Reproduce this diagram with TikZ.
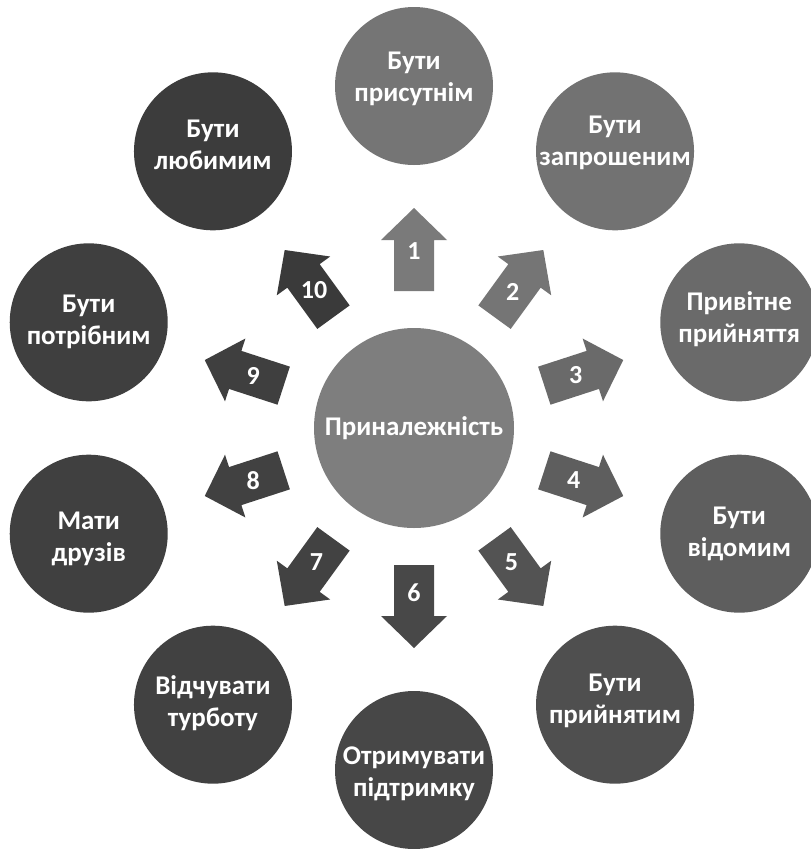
\documentclass[tikz,border=0pt]{standalone}
\usepackage{fontspec}
\setmainfont{Carlito}
\usetikzlibrary{calc}
\begin{document}
\begin{tikzpicture}[x=1pt,y=1pt,
  bubble/.style={circle, minimum size=158pt, inner sep=0pt, text=white, align=center,
    font=\fontsize{27}{32}\selectfont\bfseries},
  hub/.style={circle, minimum size=200pt, inner sep=0pt, text=white, align=center,
    font=\fontsize{27}{33}\selectfont\bfseries},
  numlabel/.style={text=white, inner sep=0pt, font=\fontsize{26}{28}\selectfont\bfseries}]
\definecolor{hubc}{HTML}{7E7E7E}
\definecolor{c1}{HTML}{757575}
\definecolor{c2}{HTML}{727272}
\definecolor{c3}{HTML}{6A6A6A}
\definecolor{c4}{HTML}{5E5E5E}
\definecolor{c5}{HTML}{4F4F4F}
\definecolor{c6}{HTML}{474747}
\definecolor{c7}{HTML}{414141}
\definecolor{c8}{HTML}{404040}
\definecolor{c9}{HTML}{3F3F3F}
\definecolor{c10}{HTML}{3C3C3C}
\definecolor{a1}{HTML}{7A7A7A}
\definecolor{a2}{HTML}{757575}
\definecolor{a3}{HTML}{6A6A6A}
\definecolor{a4}{HTML}{5E5E5E}
\definecolor{a5}{HTML}{535353}
\definecolor{a6}{HTML}{484848}
\definecolor{a7}{HTML}{424242}
\definecolor{a8}{HTML}{414141}
\definecolor{a9}{HTML}{3F3F3F}
\definecolor{a10}{HTML}{3A3A3A}
\useasboundingbox (0,0) rectangle (811,-849);
\fill[white] (0,0) rectangle (811,-849);
\coordinate (C) at (414,-428);
\node[hub, fill=hubc] (hub) at (C) {Приналежність};
% outer circles
\node[bubble, fill=c1]  (b1)  at ($(C)+(90:342)$)   {};
\node[bubble, fill=c2]  (b2)  at ($(C)+(54:342)$)   {};
\node[bubble, fill=c3]  (b3)  at ($(C)+(18:342)$)   {};
\node[bubble, fill=c4]  (b4)  at ($(C)+(-18:342)$)  {};
\node[bubble, fill=c5]  (b5)  at ($(C)+(-54:342)$)  {};
\node[bubble, fill=c6]  (b6)  at ($(C)+(-90:342)$)  {};
\node[bubble, fill=c7]  (b7)  at ($(C)+(-126:342)$) {};
\node[bubble, fill=c8]  (b8)  at ($(C)+(-162:342)$) {};
\node[bubble, fill=c9]  (b9)  at ($(C)+(162:342)$)  {};
\node[bubble, fill=c10] (b10) at ($(C)+(126:342)$)  {};
% circle texts
\node[bubble] (t1)  at ($(b1.center)+(0,7)$)   {Бути\\присутнім};
\node[bubble] (t2)  at ($(b2.center)+(0,8)$)   {Бути\\запрошеним};
\node[bubble] (t3)  at ($(b3.center)+(0,3)$)   {Привітне\\прийняття};
\node[bubble] (t4)  at (b4.center)             {Бути\\відомим};
\node[bubble] (t5)  at ($(b5.center)+(0,4)$)   {Бути\\прийнятим};
\node[bubble] (t6)  at ($(b6.center)+(0,-4)$)  {Отримувати\\підтримку};
\node[bubble] (t7)  at ($(b7.center)+(0,2)$)   {Відчувати\\турботу};
\node[bubble] (t8)  at ($(b8.center)+(0,-5)$)  {Мати\\друзів};
\node[bubble] (t9)  at (b9.center)             {Бути\\потрібним};
\node[bubble] (t10) at ($(b10.center)+(0,6)$)  {Бути\\любимим};
% arrows
\foreach \k/\col in {1/a1,2/a2,3/a3,4/a4,5/a5,6/a6,7/a7,8/a8,9/a9,10/a10}{
  \begin{scope}[shift={(C)}, rotate={-36*(\k-1)}]
    \fill[\col] (-20,137) -- (-20,188) -- (-33,188) -- (0,220) -- (33,188) -- (20,188) -- (20,137) -- cycle;
  \end{scope}
}
\node[numlabel] (n1)  at ($(C)+(90:177)$)   {1};
\node[numlabel] (n2)  at ($(C)+(54:168)$)   {2};
\node[numlabel] (n3)  at ($(C)+(18:170)$)   {3};
\node[numlabel] (n4)  at ($(C)+(-18:168)$)  {4};
\node[numlabel] (n5)  at ($(C)+(-54:166)$)  {5};
\node[numlabel] (n6)  at ($(C)+(-90:165)$)  {6};
\node[numlabel] (n7)  at ($(C)+(-126:166)$) {7};
\node[numlabel] (n8)  at ($(C)+(-162:169)$) {8};
\node[numlabel] (n9)  at ($(C)+(162:169)$)  {9};
\node[numlabel] (n10) at ($(C)+(126:170)$)  {10};
\end{tikzpicture}
\end{document}
